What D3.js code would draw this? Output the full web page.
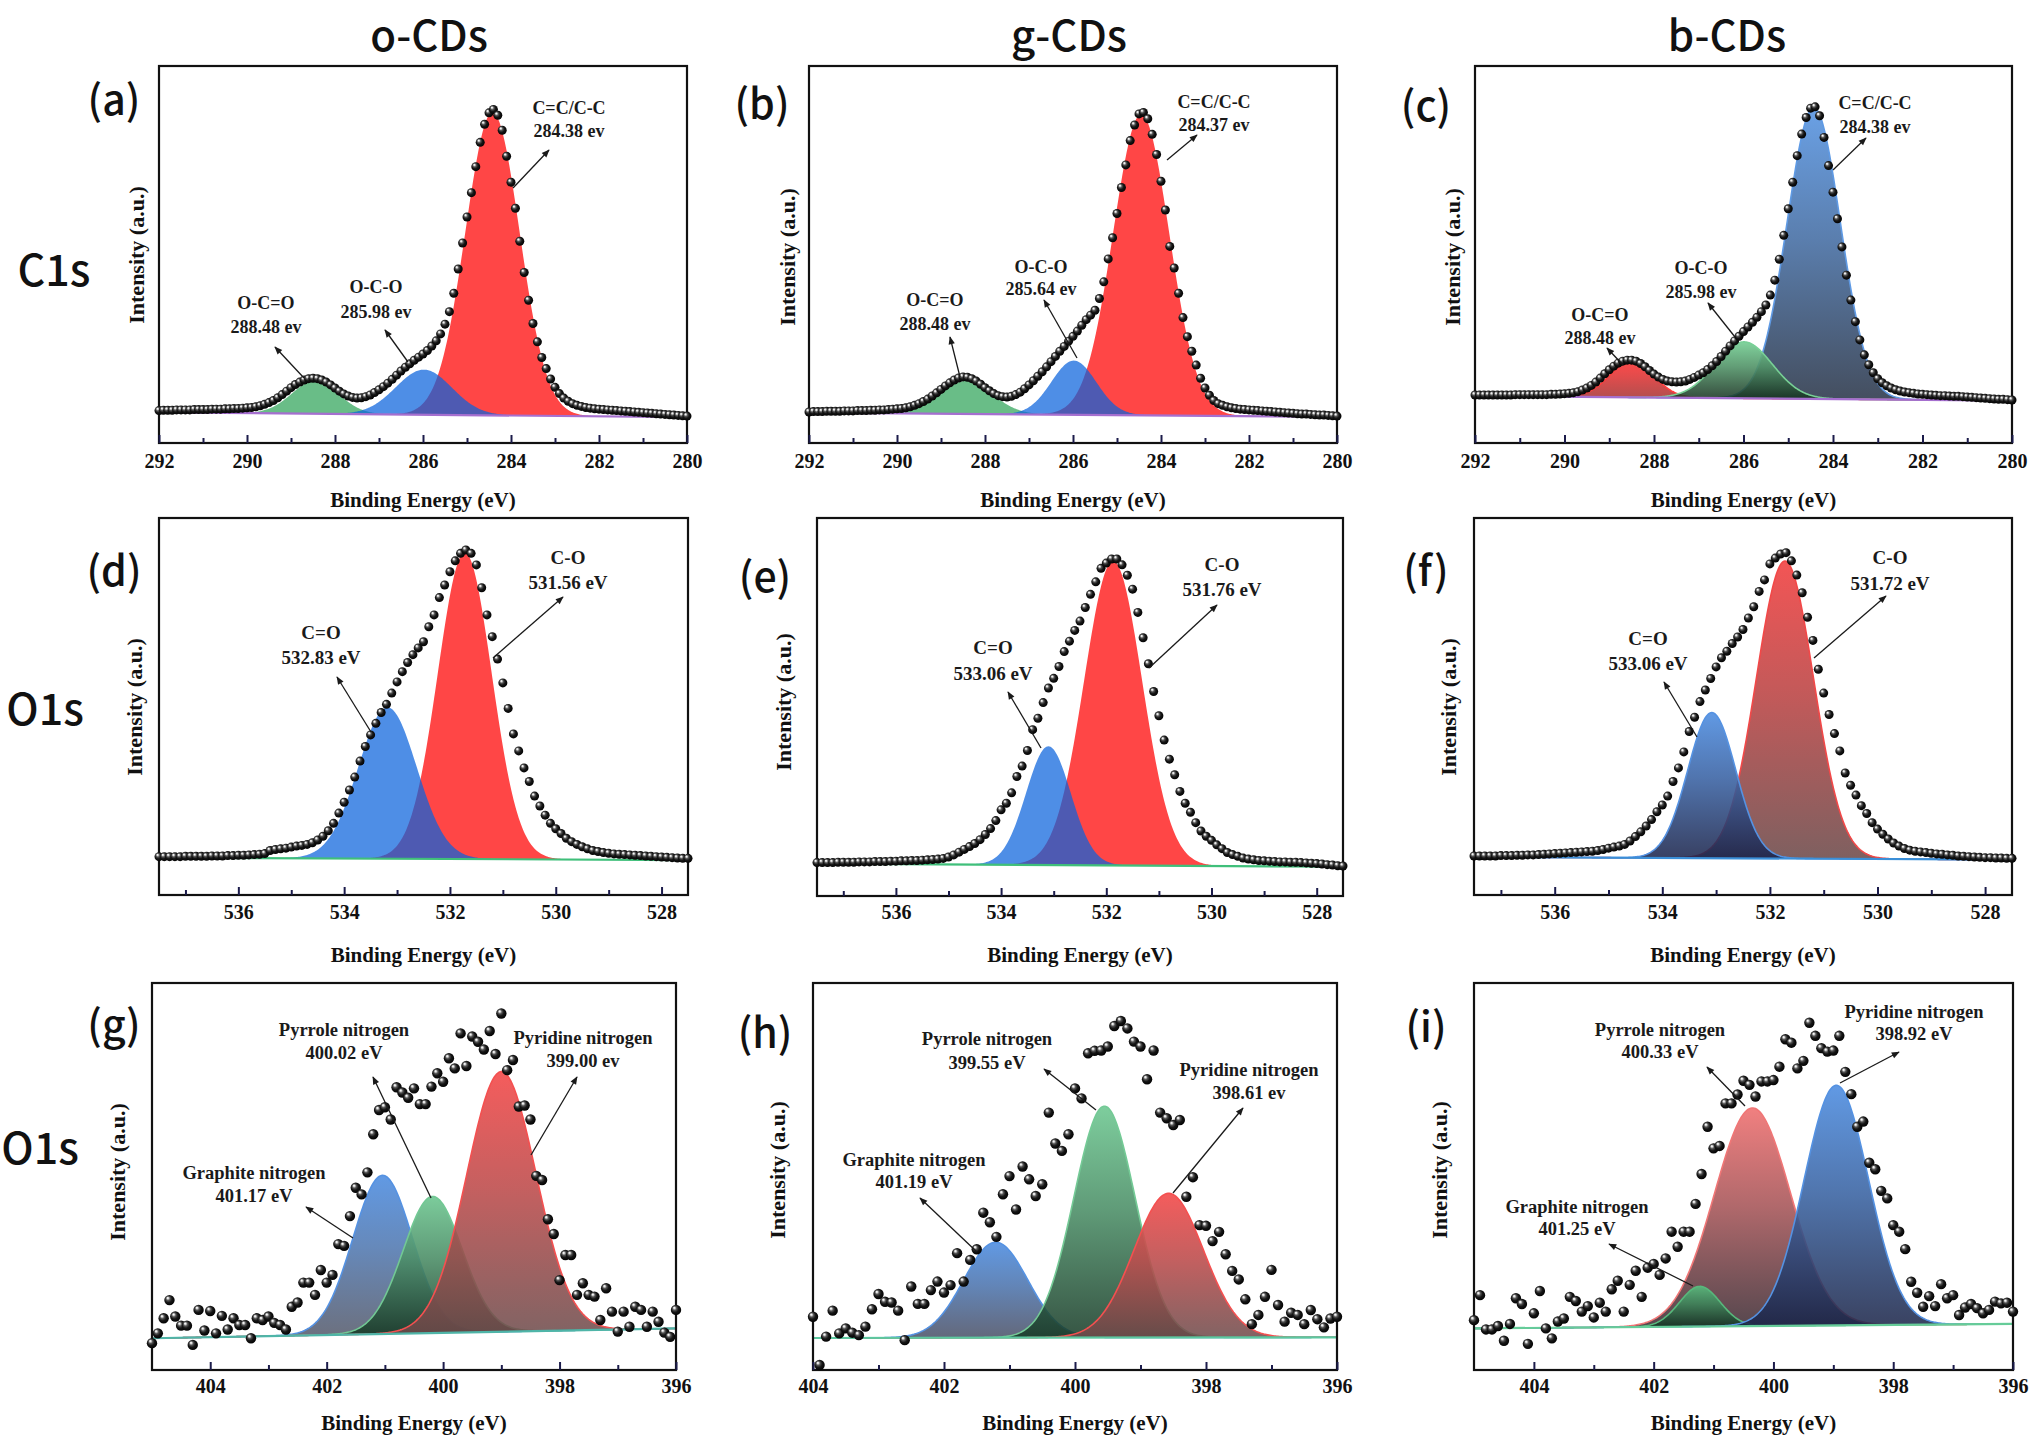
<!DOCTYPE html>
<html><head><meta charset="utf-8">
<script src="https://cdn.jsdelivr.net/npm/d3@7"></script>
<style>body{margin:0;background:#fff}svg{display:block}</style>
</head><body>
<svg id="c" width="2032" height="1440"></svg>
<script>
// ================= DATA =================
const columnTitles = ["o-CDs", "g-CDs", "b-CDs"];
const rowTitles = ["C1s", "O1s", "O1s"];
const panelLetters = ["(a)","(b)","(c)","(d)","(e)","(f)","(g)","(h)","(i)"];
const axisTitleX = "Binding Energy (eV)";
const axisTitleY = "Intensity (a.u.)";

const ticksC1s = [292, 290, 288, 286, 284, 282, 280];
const minorC1s = [291, 289, 287, 285, 283, 281];
const ticksO1s = [536, 534, 532, 530, 528];
const minorO1s = [537, 535, 533, 531, 529];
const ticksN1s = [404, 402, 400, 398, 396];
const minorN1s = [403, 401, 399, 397];

const domainC1s = [292, 280];
const domainO1s = [537.5, 527.5];
const domainN1sG = [405, 396];
const domainN1sH = [404, 396];
const domainN1sI = [405, 396];
const energyStep = 0.1;

// measured points (intensity, baseline-relative %, first point at domain start)
const dotsA = [.7,.8,.8,.8,.9,.9,.9,.9,1,1,1,1,1.1,1.1,1.1,1.2,1.2,1.3,1.3,1.4,1.5,
 1.6,1.8,2.1,2.5,3.0,3.6,4.4,5.3,6.3,7.3, 8.2,8.9,9.5,9.9,10.0,9.9,9.5,8.9,8.1,7.2,
 6.3,5.5,4.9,4.5,4.3,4.4,4.7,5.2,5.9,6.7, 7.6,8.6,9.7,10.9,12.1,13.2,14.2,15.2,16.1,17.0,
 18.0,19.3,20.8,22.8,25.6,29.2,34.5,41.5,49,56.5, 63.5,71,78,83.2,86.5,87.5,85.8,81.5,74,66.5,
 59,49.5,40.5,32.5,25.8,20.5,16,12.8,9.8,7.4, 5.6,4.3,3.4,2.7,2.2,1.9,1.6,1.4,1.2,1.1,
 1.0,.9,.8,.7,.6,.5,.4,.3,.2,.1, 0,-.1,-.2,-.3,-.4,-.5,-.6,-.7,-.8,-.9];
const dotsB = [.3,.4,.4,.4,.5,.5,.5,.5,.6,.6,.6,.7,.7,.7,.8,.8,.9,.9,1.0,1.1,1.2,
 1.3,1.5,1.8,2.2,2.7,3.3,4.0,4.9,5.8,6.8, 7.8,8.7,9.5,10.1,10.4,10.3,9.9,9.2,8.3,7.3,
 6.4,5.6,5.0,4.7,4.6,4.8,5.3,6.0,7.0,8.1, 9.3,10.6,11.9,13.3,14.8,16.3,17.8,19.2,20.7,22.1,
 23.6,25.3,26.9,28.2,29.6,33,37.8,44.4,50.5,57.5, 65,71.5,78.5,83,86.2,86.6,84.8,80.3,74.5,66.8,
 58.5,48,41.8,34.5,27.5,22,17.8,13.8,10,7.2, 5.1,3.6,2.7,2.2,1.8,1.5,1.3,1.1,1.0,.9,
 .8,.7,.6,.5,.4,.3,.2,.1,0,-.1, -.2,-.3,-.3,-.4,-.5,-.6,-.6,-.7,-.8,-.9];
const dotsC = [.9,.9,.9,.9,.9,.9,.9,.9,.9,1,1,1,1,1,1,1,1,1.1,1.1,1.2,1.3,
 1.4,1.6,1.9,2.4,3.0,3.8,4.8,6.0,7.3,8.5, 9.6,10.5,11.1,11.4,11.4,11.1,10.4,9.4,8.3,7.2,
 6.3,5.6,5.1,4.9,4.8,4.9,5.1,5.6,6.2,6.9, 7.6,8.6,9.7,11.0,12.5,14.1,15.7,17.2,18.6,20.0,
 21.4,22.8,24.3,26.0,28.0,31,35.5,41.8,49,57, 65,73,79.5,84.5,87.3,87.7,85,78.5,70,62,
 54,45.5,37,29.5,23,17.5,13,10,7.6,5.8, 4.6,3.7,3.0,2.5,2.1,1.8,1.6,1.4,1.2,1.1,
 1.0,.9,.8,.7,.7,.6,.5,.5,.4,.3, .2,.1,0,-.1,-.2,-.3,-.4,-.4,-.5,-.6];
const dotsD = [.4,.4,.4,.4,.4,.5, .5,.5,.5,.5,.6,.6,.6,.7,.7,.8,
 .8,.9,1.0,1.1,1.3,2.2,2.5,2.7,2.9,3.2, 3.5,3.7,4.0,4.5,5.3,6.4,8.0,10.2,13.2,16.4,
 20.0,23.8,28.5,32.8,36.2,39.6,42.8,45.2,48.5,51.8, 54.8,57.5,59.8,61.8,63.6,68.0,71.5,76.6,80.3,84.2,
 87.4,89.6,90.6,89.6,86.2,79.5,71.5,65.1,58.5,51.5, 44,36.5,31.5,26.5,22.5,18.2,15.3,12.6,10.2,8.6,
 7.2,5.8,4.8,4.0,3.3,2.7,2.2,1.9,1.6,1.4, 1.2,1.1,1.0,.9,.8,.7,.6,.5,.4,.3, .2,.1,0,-.1,-.1];
const dotsE = [.7,.7,.7,.7,.8,.8, .8,.8,.9,.9,.9,1.0,1.0,1.0,1.1,1.1,
 1.2,1.2,1.3,1.3,1.4,1.5,1.6,1.7,1.9,2.3, 2.9,3.7,4.5,5.3,6.2,7.3,8.8,10.5,12.8,15.9,
 17.8,20.8,25.5,28.5,33,39,42.3,46.8,51,53.8, 57.2,61.5,64.5,67.6,70.3,74.2,78,81.6,85.5,87.0,
 88.2,88.2,86.5,83.5,79.5,72.8,65.5,58,50,43, 36,30.5,26,21.2,17.8,15.2,12.2,9.8,8.3,7.1,
 5.8,4.7,3.6,3.0,2.5,2.0,1.7,1.5,1.3,1.2, 1.1,1.0,.9,.9,.8,.8,.7,.6,.5,.4, .3,.1,0,-.2,-.3];
const dotsF = [.6,.6,.6,.6,.6,.7, .7,.7,.8,.8,.9,.9,1.0,1.1,1.2,1.3,
 1.4,1.5,1.6,1.7,1.8,1.9,2.0,2.2,2.5,2.9, 3.2,3.5,4.0,5.0,6.3,7.7,9.4,11.3,13.6,15.6,
 18.2,22.5,26.5,31.2,37.2,41.4,46,49.4,52.8,56.2, 58.9,60.8,63.1,65,67.2,70.6,73.9,78.4,81.8,86.5,
 88.2,89.4,89.8,87.4,83.2,78,70.8,64,55.5,48.5, 42.2,36.6,31.5,25,21.4,18.5,15.4,13.1,10.4,8.5,
 7.0,5.6,4.4,3.5,2.8,2.3,2.0,1.8,1.6,1.4, 1.2,1.1,.9,.8,.6,.5,.4,.3,.2,.1, .1,0,0,-.1,-.1];
const dotsG = [-2.9,-0.1,4.2,9.4,4.7,2.1,2.1,-3.4,6.6,0.7, 6.3,-0.1,4.9,1.0,4.2,2.3,2.3,-1.5,4.2,3.7,
 4.7,2.9,2.3,1.0,7.5,8.7,14.4,14.4,10.9,18, 14.4,16.6,25.4,24.9,33.4,41.5,39.6,45.9,56.8,63.7,
 64.5,61,70.2,68.7,67.2,69.9,65.4,65.4,70.4,74.2, 71.8,78.5,75.6,85.6,76.3,84.7,83.2,81,86.3,79.7,
 91.3,75.1,78,64.7,65,61,44.9,43.7,32.5,28.3, 15.1,22.3,22.3,10.9,14.2,10.9,10.4,3.7,12.8,6.1,
 0.4,6.1,1.8,7.5,6.6,1.8,6.1,3.2,0.1,-1.1,6.6];
const dotsH = [6.0,-7.6,0.4,7.7,1.3,2.7,1.5,0.8,3.2,8.1, 12.4,10.2,10,7.7,-0.6,14.5,9.6,9.6,13.5,15.9,
 12.8,14.9,23.9,15.9,22,25,35.3,32.6,28.5,40.5, 45.6,36.2,48.3,44.7,40,43.3,63.5,54.8,52.7,57.4,
 70.3,67.5,80.2,80.9,81,82.1,87.9,89.3,87.2,83.5, 82.1,72.9,81,63.5,61.9,60,61.4,39.8,45.3,31.8,
 31.6,27.3,29.9,23.6,18.9,16.5,10.9,3.9,6.5,11.6, 19.2,9.3,4.6,7.1,6.5,3.9,7.9,5.3,3,5.5,6.0];
const dotsI = [1.7,9.0,-1.0,-1.0,0,-4.3,0.6,8.1,6.4,-5.2, 3.7,10.2,-0.7,-3.6,1.3,2.2,8.5,7.3,4.2,5.8,
 2.5,6.8,4.2,10.7,13.2,4.2,12,16.1,8.5,17, 18.1,14.9,19.7,27.5,23.1,27.5,27.5,35.6,44.3,58.1,
 51.8,52.5,64.9,64.9,67.5,71.5,70.3,66.9,71.3,71.3, 71.7,75.6,83.6,82.6,75.1,77.3,88.4,84.6,81,80,
 80.3,84.6,74.1,67.6,58.1,59.6,47.6,45.7,39.4,37.2, 29.4,27.5,22.4,12.9,9.7,5.6,8.7,5.8,12.2,8.1,
 9.0,3.2,5.4,6.4,5.2,3.7,4.7,7.1,6.6,6.8,4.2];

// fitted components [center eV, height, FWHM eV], in drawing order
const peaksA = [[288.45, 9.5, 1.25], [284.42, 87.3, 1.45], [285.98, 13.0, 1.5]];
const peaksB = [[288.43, 9.5, 1.4], [284.45, 86.7, 1.5], [285.98, 15.6, 1.2]];
const peaksC = [[284.43, 87.7, 1.4], [288.5, 10.9, 1.15], [285.99, 17.0, 1.5]];
const peaksD = [[531.72, 90.1, 1.2], [533.18, 44.5, 1.3]];
const peaksE = [[531.87, 87.7, 1.3], [533.1, 34.2, 1.0]];
const peaksF = [[531.72, 87.5, 1.25], [533.08, 42.8, 1.05]];
const peaksG = [[401.04, 45.3, 1.2], [400.18, 39.0, 1.2], [399.0, 74.3, 1.4]];
const peaksH = [[401.21, 26.9, 1.15], [399.55, 65.2, 1.1], [398.57, 40.6, 1.25]];
const peaksI = [[400.35, 63.6, 1.5], [401.23, 11.7, 0.8], [398.95, 70.0, 1.27]];

// linear background [value at domain start, value at domain end]
const baseA = [0.2, -1.2], baseB = [0.1, -1.1], baseC = [0.6, -0.8];
const baseD = [0.1, -0.6], baseE = [0.4, -0.5], baseF = [0.3, -0.5];
const baseG = [-1.5, 1.3], baseH = [0.0, 0.2], baseI = [-0.7, 0.6];

const labelsA = [["C=C/C-C","284.38 ev"],["O-C-O","285.98 ev"],["O-C=O","288.48 ev"]];
const labelsB = [["C=C/C-C","284.37 ev"],["O-C-O","285.64 ev"],["O-C=O","288.48 ev"]];
const labelsC = [["C=C/C-C","284.38 ev"],["O-C-O","285.98 ev"],["O-C=O","288.48 ev"]];
const labelsD = [["C-O","531.56 eV"],["C=O","532.83 eV"]];
const labelsE = [["C-O","531.76 eV"],["C=O","533.06 eV"]];
const labelsF = [["C-O","531.72 eV"],["C=O","533.06 eV"]];
const labelsG = [["Pyrrole nitrogen","400.02 eV"],["Pyridine nitrogen","399.00 ev"],["Graphite nitrogen","401.17 eV"]];
const labelsH = [["Pyrrole nitrogen","399.55 eV"],["Pyridine nitrogen","398.61 ev"],["Graphite nitrogen","401.19 eV"]];
const labelsI = [["Pyridine nitrogen","398.92 eV"],["Pyrrole nitrogen","400.33 eV"],["Graphite nitrogen","401.25 eV"]];

// ================= STYLE / LAYOUT =================
const C = {
  red:   {flat:'#ff4646'},
  green: {flat:'#69bd87'},
  blue:  {flat:'#0a62dc'}
};
const P = [
 {dots:dotsA, dom:domainC1s, ticks:ticksC1s, minor:minorC1s, peaks:peaksA, base:baseA, labels:labelsA,
  cols:['green','red','blue'], style:'flat', box:[159,687,66,443], zero:413, tickY:462, titleY:500, yl:[136,255], let:[114,97], fs:18, r:4.5,
  ann:[[569,108,131,513,188,549,150],[376,287,312,408,362,385,330],[266,303,327,304,378,275,347]], bl:'#a56fcf'},
 {dots:dotsB, dom:domainC1s, ticks:ticksC1s, minor:minorC1s, peaks:peaksB, base:baseB, labels:labelsB,
  cols:['green','red','blue'], style:'flat', box:[809,1337,66,443], zero:413, tickY:462, titleY:500, yl:[787,257], let:[762,101], fs:18, r:4.5,
  ann:[[1214,102,125,1167,160,1197,135],[1041,267,289,1077,358,1044,300],[935,300,324,960,377,950,337]], bl:'#a56fcf'},
 {dots:dotsC, dom:domainC1s, ticks:ticksC1s, minor:minorC1s, peaks:peaksC, base:baseC, labels:labelsC,
  cols:['blue','red','green'], style:'grad', box:[1475,2012,66,443], zero:398, tickY:462, titleY:500, yl:[1452,257], let:[1426,103], fs:18, r:4.5,
  ann:[[1875,103,127,1833,170,1866,138],[1701,268,292,1735,337,1708,303],[1600,315,338,1623,365,1607,348]], bl:'#a56fcf',
  cmap:{blue:{top:'#5f9ae4',bot:'#263246'}, red:{top:'#ff3c3c',bot:'#a83232'}, green:{top:'#78d096',bot:'#15321f'}}},
 {dots:dotsD, dom:domainO1s, ticks:ticksO1s, minor:minorO1s, peaks:peaksD, base:baseD, labels:labelsD,
  cols:['red','blue'], style:'flat', box:[159,688,518,895], zero:858, tickY:913, titleY:955, yl:[134,707], let:[114,568], fs:19, r:4.5,
  ann:[[568,557,582,493,658,563,597],[321,632,657,371,732,337,677]], bl:'#3fbf7a'},
 {dots:dotsE, dom:domainO1s, ticks:ticksO1s, minor:minorO1s, peaks:peaksE, base:baseE, labels:labelsE,
  cols:['red','blue'], style:'flat', box:[817,1343,518,896], zero:865, tickY:913, titleY:955, yl:[783,702], let:[765,574], fs:19, r:4.5,
  ann:[[1222,564,589,1149,668,1217,605],[993,647,673,1041,748,1008,692]], bl:'#3fbf7a'},
 {dots:dotsF, dom:domainO1s, ticks:ticksO1s, minor:minorO1s, peaks:peaksF, base:baseF, labels:labelsF,
  cols:['red','blue'], style:'grad', box:[1474,2012,518,895], zero:858, tickY:913, titleY:955, yl:[1448,707], let:[1426,568], fs:19, r:4.5,
  ann:[[1890,557,583,1814,658,1886,596],[1648,638,663,1697,737,1664,682]], bl:'#3a8fd8',
  cmap:{red:{top:'#f24848',bot:'#6a4646'}, blue:{top:'#5592e2',bot:'#18224a'}}},
 {dots:dotsG, dom:domainN1sG, ticks:ticksN1s, minor:minorN1s, peaks:peaksG, base:baseG, labels:labelsG,
  cols:['blue','green','red'], style:'grad', box:[152,676,983,1370], zero:1333, tickY:1387, titleY:1423, yl:[117,1172], let:[114,1022], fs:18.5, r:5.2,
  ann:[[344,1030,1053,431,1198,373,1077],[583,1038,1061,531,1155,577,1077],[254,1173,1196,353,1238,306,1207]], bl:'#4fb5a8',
  cmap:{blue:{top:'#5592e2',bot:'#545a6c'}, green:{top:'#72c894',bot:'#163a26'}, red:{top:'#f45050',bot:'#6e4a4a'}}},
 {dots:dotsH, dom:domainN1sH, ticks:ticksN1s, minor:minorN1s, peaks:peaksH, base:baseH, labels:labelsH,
  cols:['blue','green','red'], style:'grad', box:[813,1337,983,1370], zero:1338, tickY:1387, titleY:1423, yl:[777,1170], let:[765,1030], fs:18.5, r:5.2,
  ann:[[987,1039,1063,1096,1110,1044,1069],[1249,1070,1093,1173,1193,1243,1108],[914,1160,1182,977,1252,920,1198]], bl:'#5cc8a0',
  cmap:{blue:{top:'#5592e2',bot:'#4a5066'}, green:{top:'#74ca96',bot:'#163a26'}, red:{top:'#f45050',bot:'#6e4a4a'}}},
 {dots:dotsI, dom:domainN1sI, ticks:ticksN1s, minor:minorN1s, peaks:peaksI, base:baseI, labels:labelsI,
  cols:['red','green','blue'], style:'grad', box:[1474,2013,983,1370], zero:1326, tickY:1387, titleY:1423, yl:[1439,1170], let:[1426,1024], fs:18.5, r:5.2,
  ann:[[1914,1012,1034,1840,1083,1899,1052],[1660,1030,1052,1745,1106,1707,1067],[1577,1207,1229,1693,1286,1609,1244]], bl:'#66cc99',
  cmap:{red:{top:'#f07676',bot:'#3c2a32'}, green:{top:'#58b87c',bot:'#123222'}, blue:{top:'#5592e2',bot:'#1a2448'}}}
];
const colTitleX = [429, 1069, 1727], colTitleY = 32;
const rowTitlePos = [[54,267],[45,706],[40,1145]];

// ================= DRAW =================
const svg = d3.select('#c');
const defs = svg.append('defs');
const rg = defs.append('radialGradient').attr('id','ball').attr('cx','45%').attr('cy','45%').attr('r','58%').attr('fx','32%').attr('fy','28%');
[[0,'#ffffff'],[0.12,'#e6e6e6'],[0.34,'#555555'],[0.6,'#161616'],[1,'#000000']].forEach(([o,c])=>rg.append('stop').attr('offset',o).attr('stop-color',c));
defs.append('marker').attr('id','arr').attr('viewBox','0 0 10 10').attr('refX',9).attr('refY',5)
  .attr('markerWidth',10).attr('markerHeight',8).attr('markerUnits','userSpaceOnUse').attr('orient','auto')
  .append('path').attr('d','M0,1 L10,5 L0,9 z').attr('fill','#1a1a1a');

const serif = "'Liberation Serif','Times New Roman',serif";
const sans = "'Noto Sans CJK SC','Noto Sans',sans-serif";

columnTitles.forEach((t,i)=>svg.append('text').attr('x',colTitleX[i]).attr('y',colTitleY)
  .attr('text-anchor','middle').attr('dominant-baseline','central').attr('font-family',sans)
  .attr('font-size',42).attr('font-weight',500).attr('fill','#111').text(t));
rowTitles.forEach((t,i)=>svg.append('text').attr('x',rowTitlePos[i][0]).attr('y',rowTitlePos[i][1])
  .attr('text-anchor','middle').attr('dominant-baseline','central').attr('font-family',sans)
  .attr('font-size',43).attr('font-weight',500).attr('fill','#111').text(t));

const gauss = (e,[c,h,w]) => h*Math.exp(-4*Math.LN2*(e-c)*(e-c)/(w*w));

P.forEach((p,pi)=>{
  const [x0,x1,y0,y1] = p.box;
  const x = d3.scaleLinear().domain(p.dom).range([x0,x1]);
  const y = d3.scaleLinear().domain([0,100]).range([p.zero,y0]);
  const base = e => p.base[0] + (p.base[1]-p.base[0])*(p.dom[0]-e)/(p.dom[0]-p.dom[1]);
  const g = svg.append('g');
  const cid = 'clip'+pi;
  defs.append('clipPath').attr('id',cid).append('rect').attr('x',x0).attr('y',y0).attr('width',x1-x0).attr('height',y1-y0);
  const lo = Math.min(...p.dom), hi = Math.max(...p.dom);
  const es = d3.range(lo, hi+0.0001, 0.02);
  const fills = g.append('g').attr('clip-path',`url(#${cid})`);
  p.peaks.forEach((pk,k)=>{
    const col = p.cols[k];
    const area = d3.area().x(e=>x(e)).y0(e=>y(base(e))).y1(e=>y(base(e)+gauss(e,pk)));
    if(p.style==='flat'){
      fills.append('path').datum(es).attr('d',area).attr('fill',C[col].flat)
        .attr('fill-opacity', col==='blue'?0.72:1);
    } else {
      const cm = p.cmap[col];
      const gid = `gr${pi}_${k}`;
      const lg = defs.append('linearGradient').attr('id',gid).attr('gradientUnits','userSpaceOnUse')
        .attr('x1',0).attr('x2',0).attr('y1',y(base(pk[0])+pk[1])).attr('y2',y(base(pk[0])));
      const mix = d3.interpolateRgb(cm.top, cm.bot);
      lg.append('stop').attr('offset',0).attr('stop-color',cm.top).attr('stop-opacity',0.93);
      lg.append('stop').attr('offset',0.45).attr('stop-color',mix(0.4)).attr('stop-opacity',0.9);
      lg.append('stop').attr('offset',1).attr('stop-color',cm.bot).attr('stop-opacity',0.86);
      fills.append('path').datum(es).attr('d',area).attr('fill',`url(#${gid})`);
      const line = d3.line().x(e=>x(e)).y(e=>y(base(e)+gauss(e,pk)));
      fills.append('path').datum(es).attr('d',line).attr('fill','none').attr('stroke',cm.top).attr('stroke-width',1.6);
    }
  });
  // background line
  fills.append('path').datum([p.dom[0],p.dom[1]]).attr('d',d3.line().x(e=>x(e)).y(e=>y(base(e))))
    .attr('stroke',p.bl).attr('stroke-width',2.2).attr('fill','none');
  // frame
  g.append('rect').attr('x',x0).attr('y',y0).attr('width',x1-x0).attr('height',y1-y0)
    .attr('fill','none').attr('stroke','#111').attr('stroke-width',2.2);
  // axes
  const ax = g.append('g').attr('transform',`translate(0,${y1})`)
    .call(d3.axisBottom(x).tickValues(p.ticks).tickSize(-8).tickPadding(p.tickY-y1-8).tickFormat(d3.format('d')));
  ax.select('.domain').remove();
  ax.selectAll('line').attr('stroke','#1b1b4a').attr('stroke-width',2);
  ax.selectAll('text').attr('font-family',serif).attr('font-weight','bold').attr('font-size',20).attr('fill','#111');
  const mx = g.append('g').attr('transform',`translate(0,${y1})`)
    .call(d3.axisBottom(x).tickValues(p.minor).tickSize(-5).tickFormat(''));
  mx.select('.domain').remove();
  mx.selectAll('line').attr('stroke','#1b1b4a').attr('stroke-width',2);
  // titles
  g.append('text').attr('x',(x0+x1)/2).attr('y',p.titleY).attr('text-anchor','middle').attr('dominant-baseline','central')
    .attr('font-family',serif).attr('font-weight','bold').attr('font-size',21).attr('fill','#111').text(axisTitleX);
  g.append('text').attr('transform',`translate(${p.yl[0]},${p.yl[1]}) rotate(-90)`).attr('text-anchor','middle')
    .attr('dominant-baseline','central').attr('font-family',serif).attr('font-weight','bold').attr('font-size',22)
    .attr('fill','#111').text(axisTitleY);
  g.append('text').attr('x',p.let[0]).attr('y',p.let[1]).attr('text-anchor','middle').attr('dominant-baseline','central')
    .attr('font-family',sans).attr('font-size',41).attr('font-weight',500).attr('fill','#111').text(panelLetters[pi]);
  // dots
  g.append('g').selectAll('circle').data(p.dots).join('circle')
    .attr('cx',(d,i)=>x(p.dom[0]-i*energyStep)).attr('cy',d=>y(d)).attr('r',p.r).attr('fill','url(#ball)');
  // annotations
  p.ann.forEach((a,k)=>{
    g.append('line').attr('x1',a[3]).attr('y1',a[4]).attr('x2',a[5]).attr('y2',a[6])
      .attr('stroke','#1a1a1a').attr('stroke-width',1.3).attr('marker-end','url(#arr)');
    [1,2].forEach(j=>g.append('text').attr('x',a[0]).attr('y',a[j]).attr('text-anchor','middle')
      .attr('dominant-baseline','central').attr('font-family',serif).attr('font-weight','bold')
      .attr('font-size',p.fs).attr('fill','#1a1a1a').text(p.labels[k][j-1]));
  });
});
</script>
</body></html>
